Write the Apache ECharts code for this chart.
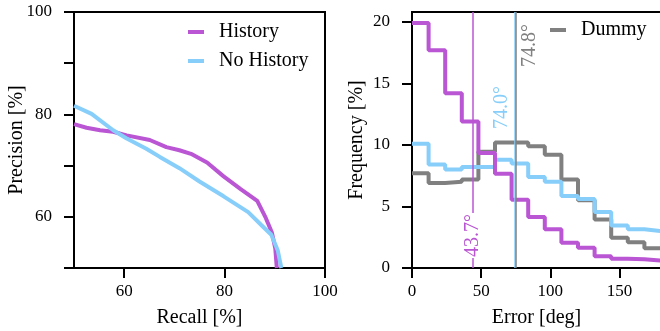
<!DOCTYPE html>
<html>
<head>
<meta charset="utf-8">
<script src="https://cdn.jsdelivr.net/npm/echarts@6/dist/echarts.min.js"></script>
<style>
  html, body { margin: 0; padding: 0; background: #fff; }
  #chart { width: 660px; height: 331px; }
</style>
</head>
<body>
<div id="chart"></div>
<script>
// precision / recall curves (left)
const recallHistory = [50, 52.5, 55.2, 57.8, 60.5, 65.1, 68.4, 71.0, 73.3, 76.5, 79.8, 83.2, 86.5, 88.1, 89.4, 90.1, 90.4];
const precisionHistory = [78.1, 77.4, 76.9, 76.6, 75.9, 75.0, 73.6, 73.0, 72.3, 70.6, 67.9, 65.4, 63.1, 60.0, 57.0, 53.8, 50];
const recallNoHistory = [50, 53.5, 57.8, 60.5, 64.4, 67.1, 71.0, 75.0, 79.8, 84.7, 87.2, 89.3, 90.6, 91.3];
const precisionNoHistory = [81.7, 80.1, 76.9, 75.3, 73.3, 71.7, 69.5, 66.9, 64.0, 60.9, 58.5, 56.5, 53.4, 50];

// error histograms (right), 12 deg bins
const binEdges = [0, 12, 24, 36, 48, 60, 72, 84, 96, 108, 120, 132, 144, 156, 168, 180];
const freqHistory = [19.9, 17.7, 14.2, 11.9, 9.35, 7.65, 5.55, 4.15, 3.15, 2.05, 1.65, 0.95, 0.75, 0.72, 0.6];
const freqNoHistory = [10.1, 8.4, 8.0, 8.2, 8.2, 8.8, 8.5, 7.4, 7.0, 5.85, 5.6, 4.55, 3.45, 3.15, 3.0];
const freqDummy = [7.7, 6.9, 7.0, 7.2, 9.45, 10.2, 10.2, 9.9, 9.2, 7.2, 5.5, 3.95, 2.45, 2.1, 1.6];

// median errors
const medianHistory = 43.7;
const medianNoHistory = 74.0;
const medianDummy = 74.8;

// tick values
const prXTicks = [60, 80, 100];
const prYTicks = [50, 60, 70, 80, 90, 100];
const prYLabels = [60, 80, 100];
const errXTicks = [0, 50, 100, 150];
const errYTicks = [0, 5, 10, 15, 20];

const PURPLE = '#BA55D3';
const BLUE = '#87CEFA';
const GRAY = '#808080';
const FONT = 'Liberation Serif';

const zip = (xs, ys) => xs.map((x, i) => [x, ys[i]]);
// step line: hold each bin value until the next edge
const stepData = vals => binEdges.map((e, i) => [e, vals[Math.min(i, vals.length - 1)]]);

function axis(gridIndex, min, max, ticks, labels, name, nameGap, labelMargin) {
  return {
    type: 'value',
    gridIndex: gridIndex,
    min: min,
    max: max,
    name: name,
    nameLocation: 'middle',
    nameGap: nameGap,
    nameMoveOverlap: false,
    nameTextStyle: { fontFamily: FONT, fontSize: 20, color: '#000' },
    axisLine: { show: true, onZero: false, lineStyle: { color: '#000', width: 2 } },
    axisTick: { show: true, length: 10, customValues: ticks, lineStyle: { color: '#000', width: 2 } },
    axisLabel: { customValues: labels, margin: labelMargin, fontFamily: FONT, fontSize: 17, color: '#000' },
    splitLine: { show: false },
  };
}

const chart = echarts.init(document.getElementById('chart'));

const medianLine = (value, color, position, distance) => ({
  xAxis: value,
  lineStyle: { color: color, width: 1.5, type: 'solid' },
  label: {
    show: true,
    position: position,
    distance: distance,
    formatter: p => p.value.toFixed(1) + '°',
    color: color,
    fontFamily: FONT,
    fontSize: 20,
    backgroundColor: position === 'insideStart' ? '#fff' : 'transparent',
    padding: [0, 1],
  },
});

const option = {
  animation: false,
  backgroundColor: '#fff',
  textStyle: { fontFamily: FONT },
  grid: [
    { left: 74, top: 12, width: 251, height: 256, show: true, borderColor: '#000', borderWidth: 2, outerBoundsMode: 'none', containLabel: false },
    { left: 412, top: 12, width: 249, height: 256, show: true, borderColor: '#000', borderWidth: 2, outerBoundsMode: 'none', containLabel: false },
  ],
  legend: [
    {
      data: ['History', 'No History'],
      orient: 'vertical',
      left: 188,
      top: 22,
      padding: 0,
      itemGap: 9,
      itemWidth: 16,
      itemHeight: 4,
      icon: 'rect',
      formatter: n => '  ' + n,
      textStyle: { fontFamily: FONT, fontSize: 20, lineHeight: 20, color: '#000' },
    },
    {
      data: ['Dummy'],
      left: 550,
      top: 20,
      padding: 0,
      itemWidth: 16,
      itemHeight: 4,
      icon: 'rect',
      formatter: n => '  ' + n,
      textStyle: { fontFamily: FONT, fontSize: 20, lineHeight: 20, color: '#000' },
    },
  ],
  xAxis: [
    axis(0, 50, 100, prXTicks, prXTicks, 'Recall [%]', 40, 15),
    axis(1, 0, 180, errXTicks, errXTicks, 'Error [deg]', 40, 15),
  ],
  yAxis: [
    axis(0, 50, 100, prYTicks, prYLabels, 'Precision [%]', 47, 22),
    axis(1, 0, 20.8, errYTicks, errYTicks, 'Frequency [%]', 45, 22),
  ],
  series: [
    {
      name: 'History', type: 'line', xAxisIndex: 0, yAxisIndex: 0,
      data: zip(recallHistory, precisionHistory),
      showSymbol: false, color: PURPLE, lineStyle: { width: 4, color: PURPLE },
    },
    {
      name: 'No History', type: 'line', xAxisIndex: 0, yAxisIndex: 0,
      data: zip(recallNoHistory, precisionNoHistory),
      showSymbol: false, color: BLUE, lineStyle: { width: 4, color: BLUE },
    },
    {
      name: 'Dummy', type: 'line', xAxisIndex: 1, yAxisIndex: 1, step: 'end',
      data: stepData(freqDummy),
      showSymbol: false, color: GRAY, lineStyle: { width: 4, color: GRAY },
    },
    {
      name: 'No History', type: 'line', xAxisIndex: 1, yAxisIndex: 1, step: 'end',
      data: stepData(freqNoHistory),
      showSymbol: false, color: BLUE, lineStyle: { width: 4, color: BLUE },
    },
    {
      name: 'History', type: 'line', xAxisIndex: 1, yAxisIndex: 1, step: 'end',
      data: stepData(freqHistory),
      showSymbol: false, color: PURPLE, lineStyle: { width: 4, color: PURPLE },
      markLine: {
        silent: true,
        symbol: 'none',
        animation: false,
        data: [
          medianLine(medianHistory, PURPLE, 'insideStart', [10, 0]),
          medianLine(medianNoHistory, BLUE, 'insideEndTop', [73, 3]),
          medianLine(medianDummy, GRAY, 'insideEndBottom', [11, 4]),
        ],
      },
    },
  ],
};

chart.setOption(option);
</script>
</body>
</html>
